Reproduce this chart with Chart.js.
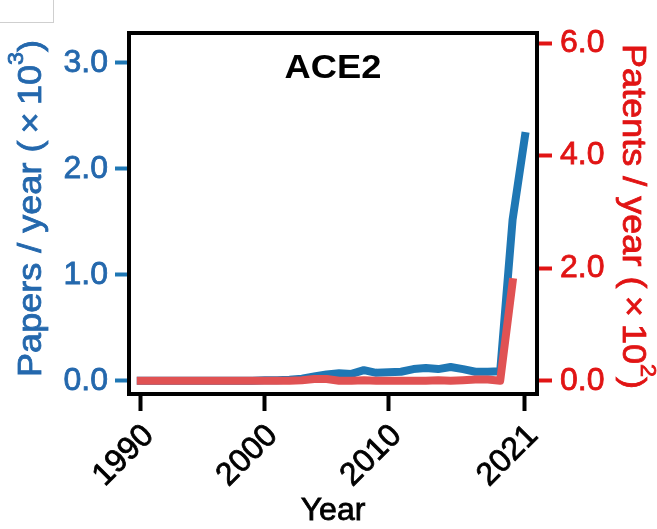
<!DOCTYPE html>
<html>
<head>
<meta charset="utf-8">
<script src="https://cdn.jsdelivr.net/npm/chart.js@4.4.1/dist/chart.umd.min.js"></script>
<style>
  html, body { margin: 0; padding: 0; background: #fff; }
  #wrap { position: relative; width: 657px; height: 529px; }
  #stub { position: absolute; left: 0; top: 0; width: 53px; height: 22px;
          border-right: 1px solid #cfcfcf; border-bottom: 1px solid #cfcfcf; }
</style>
</head>
<body>
<div id="wrap">
  <canvas id="grafico" width="657" height="529"></canvas>
  <div id="stub"></div>
</div>
<script>
// Anos e séries (papers em milhares, patentes em centenas)
const anos = [1990, 1991, 1992, 1993, 1994, 1995, 1996, 1997, 1998, 1999,
  2000, 2001, 2002, 2003, 2004, 2005, 2006, 2007, 2008, 2009,
  2010, 2011, 2012, 2013, 2014, 2015, 2016, 2017, 2018, 2019,
  2020, 2021]
const papers = [0, 0, 0, 0, 0, 0, 0, 0, 0, 0,
  0.005, 0.005, 0.01, 0.02, 0.04, 0.06, 0.07, 0.065, 0.10, 0.075,
  0.08, 0.085, 0.11, 0.12, 0.11, 0.13, 0.11, 0.085, 0.085, 0.09,
  1.52, 2.31]
const patentes = [0, 0, 0, 0, 0, 0, 0, 0, 0, 0,
  0, 0, 0, 0.01, 0.03, 0.03, 0, 0, 0.01, 0,
  0, 0, 0, 0, 0.01, 0, 0.01, 0.02, 0.02, 0,
  1.75]

const ticksAno = [1990, 2000, 2010, 2021]
const ticksPapers = [0, 1, 2, 3]
const ticksPatentes = [0, 2, 4, 6]

const AZUL = '#1f77b4'
const AZUL_TXT = '#2468ad'
const VERMELHO = '#e05253'
const VERMELHO_TXT = '#e11414'
const FONTE = '"Liberation Sans", Arial, sans-serif'
const TAM = 32
const TRACO = 0.8

// desenha texto girado em partes (para o expoente)
function textoGirado(ctx, partes, cx, cy, ang, cor, estica) {
  ctx.save()
  ctx.translate(cx, cy)
  ctx.rotate(ang)
  ctx.scale(estica, 1)
  ctx.fillStyle = cor
  ctx.strokeStyle = cor
  ctx.lineWidth = TRACO
  ctx.textBaseline = 'middle'
  ctx.textAlign = 'left'
  let total = 0
  partes.forEach(p => {
    ctx.font = `${p.tam}px ${FONTE}`
    p.w = ctx.measureText(p.txt).width
    total += p.w
  })
  let x = -total / 2
  partes.forEach(p => {
    ctx.font = `${p.tam}px ${FONTE}`
    ctx.fillText(p.txt, x, -(p.sobe || 0))
    ctx.strokeText(p.txt, x, -(p.sobe || 0))
    x += p.w
  })
  ctx.restore()
}

const tituloEixo = (base, exp) => [
  { txt: base + ' (\u2009×\u200910', tam: 34 },
  { txt: exp, tam: 22, sobe: 15 },
  { txt: ')', tam: 34 }
]

// moldura preta, título interno e títulos dos eixos
const moldura = {
  id: 'moldura',
  afterDatasetsDraw(chart) {
    const { ctx, chartArea: a } = chart
    ctx.save()
    ctx.strokeStyle = '#000'
    ctx.lineWidth = 4
    ctx.strokeRect(a.left, a.top, a.right - a.left, a.bottom - a.top)
    ctx.fillStyle = '#000'
    ctx.font = `bold 33px ${FONTE}`
    ctx.textAlign = 'center'
    ctx.textBaseline = 'middle'
    ctx.translate((a.left + a.right) / 2, a.top + 36)
    ctx.scale(1.1, 1)
    ctx.fillText('ACE2', 0, 0)
    ctx.restore()
    textoGirado(ctx, [{ txt: 'Year', tam: TAM }], (a.left + a.right) / 2, 511, 0, '#000', 1)
    textoGirado(ctx, tituloEixo('Papers / year', '3'), 32, 208.5, -Math.PI / 2, AZUL_TXT, 1.06)
    textoGirado(ctx, tituloEixo('Patents / year', '2'), 632, 216.5, Math.PI / 2, VERMELHO_TXT, 1.06)
  }
}

const fixarTicks = lista => scale => {
  scale.ticks = lista.map(v => ({ value: v }))
}

new Chart(document.getElementById('grafico').getContext('2d'), {
  type: 'line',
  data: {
    datasets: [
      {
        label: 'Patents',
        data: patentes.map((v, i) => ({ x: anos[i], y: v })),
        yAxisID: 'yPat',
        borderColor: VERMELHO,
        borderWidth: 8,
        borderCapStyle: 'square',
        borderJoinStyle: 'round',
        pointRadius: 0,
        order: 0
      },
      {
        label: 'Papers',
        data: papers.map((v, i) => ({ x: anos[i], y: v })),
        yAxisID: 'yPap',
        borderColor: AZUL,
        borderWidth: 8,
        borderCapStyle: 'square',
        borderJoinStyle: 'round',
        pointRadius: 0,
        order: 1
      }
    ]
  },
  options: {
    responsive: false,
    animation: false,
    layout: { padding: { top: 33, left: 0, right: 0, bottom: 0 } },
    plugins: { legend: { display: false }, tooltip: { enabled: false } },
    scales: {
      x: {
        type: 'linear',
        min: 1989.05,
        max: 2021.97,
        afterBuildTicks: fixarTicks(ticksAno),
        afterFit: s => { s.height = 135 },
        border: { display: false },
        grid: { drawOnChartArea: false, tickLength: 17, tickWidth: 4, tickColor: '#000' },
        ticks: {
          autoSkip: false, minRotation: 45, maxRotation: 45, padding: 6, labelOffset: 8,
          color: '#000', font: { family: FONTE, size: TAM },
          textStrokeColor: '#000', textStrokeWidth: TRACO,
          callback: v => String(v)
        }
      },
      yPap: {
        position: 'left',
        min: -0.125,
        max: 3.283,
        afterBuildTicks: fixarTicks(ticksPapers),
        afterFit: s => { s.width = 129 },
        border: { display: false },
        grid: { drawOnChartArea: false, tickLength: 14, tickWidth: 4, tickColor: AZUL },
        ticks: {
          padding: 7, color: AZUL_TXT, font: { family: FONTE, size: TAM },
          textStrokeColor: AZUL_TXT, textStrokeWidth: TRACO,
          callback: v => v.toFixed(1)
        }
      },
      yPat: {
        position: 'right',
        min: -0.236,
        max: 6.18,
        afterBuildTicks: fixarTicks(ticksPatentes),
        afterFit: s => { s.width = 120 },
        border: { display: false },
        grid: { drawOnChartArea: false, tickLength: 15, tickWidth: 4, tickColor: VERMELHO_TXT },
        ticks: {
          padding: 8, color: VERMELHO_TXT, font: { family: FONTE, size: TAM },
          textStrokeColor: VERMELHO_TXT, textStrokeWidth: TRACO,
          callback: v => v.toFixed(1)
        }
      }
    }
  },
  plugins: [moldura]
})
</script>
</body>
</html>
